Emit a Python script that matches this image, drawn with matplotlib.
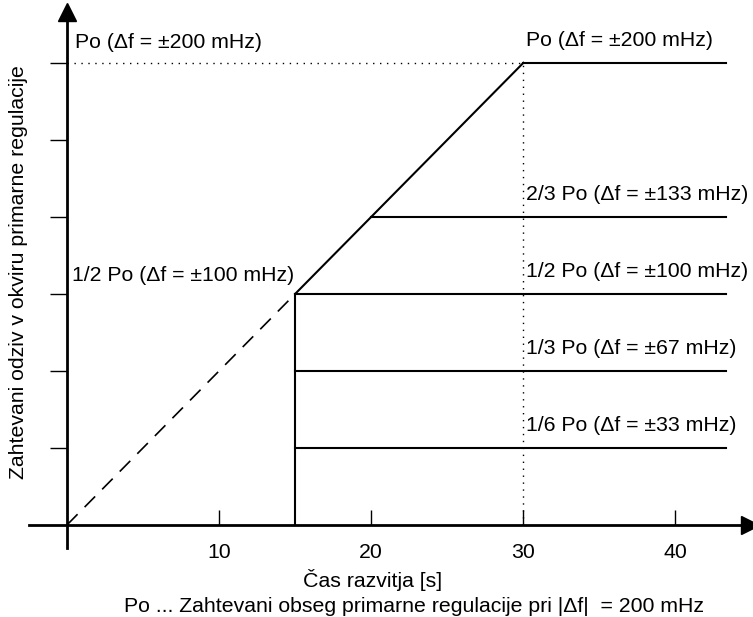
import matplotlib
matplotlib.use('Agg')
import matplotlib.pyplot as plt

plt.rcParams['font.family'] = ['Liberation Sans', 'DejaVu Sans']

# podatki (Po = 1)
t_ramp = [0, 15, 30]           # linearni porast do Po v 30 s
p_ramp = [0, 0.5, 1.0]
t_end = 43.3
levels = [1/6, 1/3, 1/2, 2/3, 1.0]
level_start = [15, 15, 15, 20, 30]
level_labels = ['1/6 Po (Δf = ±33 mHz)', '1/3 Po (Δf = ±67 mHz)',
                '1/2 Po (Δf = ±100 mHz)', '2/3 Po (Δf = ±133 mHz)',
                'Po (Δf = ±200 mHz)']
xticks = [10, 20, 30, 40]
yticks = [1/6, 1/3, 1/2, 2/3, 5/6, 1.0]

FS = 15.3
fig = plt.figure(figsize=(7.53, 6.17), dpi=100)
W, H = 753, 617
ax = fig.add_axes([29/W, (H-548)/H, (750-29)/W, (548-12)/H])
ax.set_xlim(-2.5, 44.9)
ax.set_ylim(-0.05, 1.11)

for s in ['top', 'right']:
    ax.spines[s].set_visible(False)
ax.spines['left'].set_position(('data', 0))
ax.spines['bottom'].set_position(('data', 0))
ax.spines['left'].set_linewidth(2)
ax.spines['bottom'].set_linewidth(2)
ax.plot(1, 0, '>k', ms=13, transform=ax.get_yaxis_transform(), clip_on=False)
ax.plot(0, 1, '^k', ms=13, transform=ax.get_xaxis_transform(), clip_on=False)

ax.set_xticks(xticks)
ax.set_xticklabels([str(v) for v in xticks], fontsize=FS)
ax.tick_params(axis='x', direction='in', length=11, width=1, pad=13)
ax.set_yticks(yticks)
ax.set_yticklabels([])
ax.tick_params(axis='y', direction='out', length=12, width=1)

# dotted guides
ax.plot([0, 30], [1, 1], color='k', lw=1, ls=(0, (1, 4)))
ax.plot([30, 30], [0, 1], color='k', lw=1, ls=(0, (1, 4)))

# dashed start
ax.plot(t_ramp[:2], p_ramp[:2], color='k', lw=1.2, ls=(0, (9, 6)))
# ramp and vertical step
ax.plot(t_ramp[1:], p_ramp[1:], color='k', lw=1.5)
ax.plot([15, 15], [0, 0.5], color='k', lw=1.5)

for lv, x0, lab in zip(levels, level_start, level_labels):
    ax.plot([x0, t_end], [lv, lv], color='k', lw=1.5)
    ax.text(30.2, lv + 0.028, lab, fontsize=FS, ha='left', va='bottom')

ax.text(0.5, 1.024, 'Po (Δf = ±200 mHz)', fontsize=FS, ha='left', va='bottom')
ax.text(0.3, 0.52, '1/2 Po (Δf = ±100 mHz)', fontsize=FS, ha='left', va='bottom')

fig.text(19/W, 1 - 272/H, 'Zahtevani odziv v okviru primarne regulacije',
         rotation=90, fontsize=FS, ha='center', va='center')
fig.text(373/W, 1 - 580/H, 'Čas razvitja [s]', fontsize=FS, ha='center', va='center')
fig.text(414/W, 1 - 606/H, 'Po ... Zahtevani obseg primarne regulacije pri |Δf|  = 200 mHz',
         fontsize=FS, ha='center', va='center')

fig.savefig('out.png', dpi=100)
